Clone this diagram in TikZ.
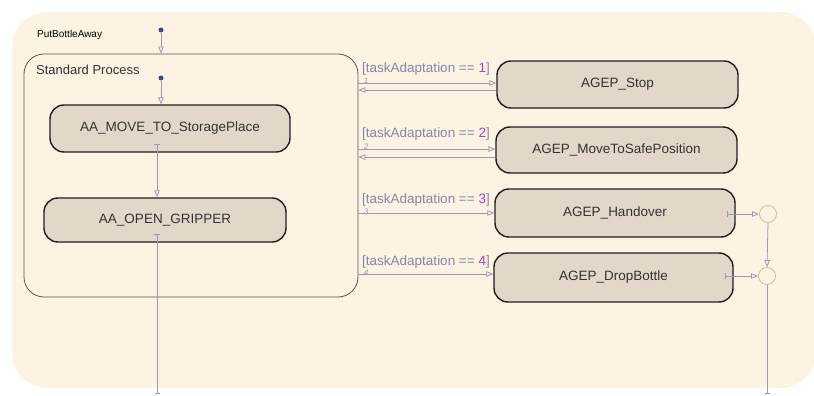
\documentclass[tikz,border=0pt]{standalone}
\usepackage{fontspec}
\setmainfont{Liberation Sans}
\usetikzlibrary{arrows.meta}
\definecolor{bg}{HTML}{FDF3E3}
\definecolor{boxfill}{HTML}{E2D8CA}
\definecolor{boxtext}{HTML}{333333}
\definecolor{trans}{HTML}{9C9AB2}
\definecolor{guard}{HTML}{8886A8}
\definecolor{num}{HTML}{B040C0}
\definecolor{junc}{HTML}{CDBE9E}
\definecolor{dotc}{HTML}{3A4A90}
\definecolor{spline}{HTML}{555555}
\begin{document}
\begin{tikzpicture}[x=1pt,y=-1pt,
  state/.style={draw=black!88, line width=1.4pt, fill=boxfill, rounded corners=14pt,
    text=boxtext, inner sep=0pt, font=\fontsize{13.5}{15}\selectfont},
  tr/.style={draw=trans, line width=0.8pt},
  arr/.style={-{Triangle[open,length=7pt,width=5.5pt]}},
  barr/.style={{Bar[width=6pt]}-{Triangle[open,length=7pt,width=5.5pt]}},
  guardlbl/.style={anchor=west, inner sep=0pt, text=guard, font=\fontsize{13.5}{15}\selectfont},
  numlbl/.style={inner sep=0pt, text=trans, font=\fontsize{8}{9}\selectfont\itshape},
  junction/.style={circle, draw=junc, line width=0.8pt, fill=bg, minimum size=17pt, inner sep=0pt},
  dotnode/.style={circle, fill=dotc, minimum size=5pt, inner sep=0pt}
]
\useasboundingbox (0,0) rectangle (814,396);
\fill[bg, rounded corners=36pt] (12,12) rectangle (816,388);

\node[anchor=west, inner sep=0pt, font=\fontsize{10}{12}\selectfont] (pba) at (37,35) {PutBottleAway};
\node[dotnode] (d0) at (161,30) {};

\node[draw=spline, line width=0.8pt, rounded corners=20pt, minimum width=334pt, minimum height=243pt, inner sep=0pt] (sp) at (191,175.5) {};
\node[anchor=west, inner sep=0pt, text=boxtext, font=\fontsize{13}{15}\selectfont] (splbl) at (36,70) {Standard Process};
\node[dotnode] (d1) at (161,78) {};

\node[state, minimum width=240pt, minimum height=47pt] (move) at (170,128.5) {AA\_MOVE\_TO\_StoragePlace};
\node[state, minimum width=242pt, minimum height=44pt] (open) at (165,220) {AA\_OPEN\_GRIPPER};

\node[state, minimum width=241pt, minimum height=47pt] (stop) at (617.5,84.5) {AGEP\_Stop};
\node[state, minimum width=241pt, minimum height=46pt] (safe) at (616.5,150) {AGEP\_MoveToSafePosition};
\node[state, minimum width=240pt, minimum height=48pt] (hand) at (615,213) {AGEP\_Handover};
\node[state, minimum width=239pt, minimum height=49pt] (drop) at (613.5,277.5) {AGEP\_DropBottle};

\node[junction] (j1) at (768,214) {};
\node[junction] (j2) at (767,276) {};

% default transitions
\draw[tr, arr] (d0) -- (d0 |- sp.north);
\draw[tr, arr] (d1) -- (d1 |- move.north);

% internal transitions
\coordinate (mvout) at (157,144);
\draw[tr, barr] (mvout) -- (mvout |- open.north);
\coordinate (opout) at (157,234);
\coordinate (opend) at (157,394);
\draw[tr, {Bar[width=6pt]}-{Bar[width=5pt]}] (opout) -- (opend);

% task adaptation transitions
\draw[tr, arr] (sp.east |- 0,83) -- (stop.west |- 0,83);
\draw[tr, arr] (stop.west |- 0,90) -- (sp.east |- 0,90);
\draw[tr, arr] (sp.east |- 0,149) -- (safe.west |- 0,149);
\draw[tr, arr] (safe.west |- 0,157) -- (sp.east |- 0,157);
\draw[tr, arr] (sp.east |- 0,213) -- (hand.west |- 0,213);
\draw[tr, arr] (sp.east |- 0,274) -- (drop.west |- 0,274);

\node[numlbl] (n1) at (366,81) {1};
\node[numlbl] (n2) at (366,147) {2};
\node[numlbl] (n3) at (366,212) {3};
\node[numlbl] (n4) at (366,273) {4};

\node[guardlbl] (g1) at (362,69) {[taskAdaptation == \textcolor{num}{1}]};
\node[guardlbl] (g2) at (362,134) {[taskAdaptation == \textcolor{num}{2}]};
\node[guardlbl] (g3) at (362,200) {[taskAdaptation == \textcolor{num}{3}]};
\node[guardlbl] (g4) at (362,262) {[taskAdaptation == \textcolor{num}{4}]};

% exits to junctions
\coordinate (hout) at (727,214);
\coordinate (dout) at (725,276);
\draw[tr, barr] (hout) -- (j1.west);
\draw[tr, barr] (dout) -- (j2.west);
\draw[tr, arr] (j1.south) -- (j2.north);
\coordinate (jend) at (767,394);
\draw[tr, -{Bar[width=5pt]}] (j2.south) -- (jend);
\end{tikzpicture}
\end{document}
